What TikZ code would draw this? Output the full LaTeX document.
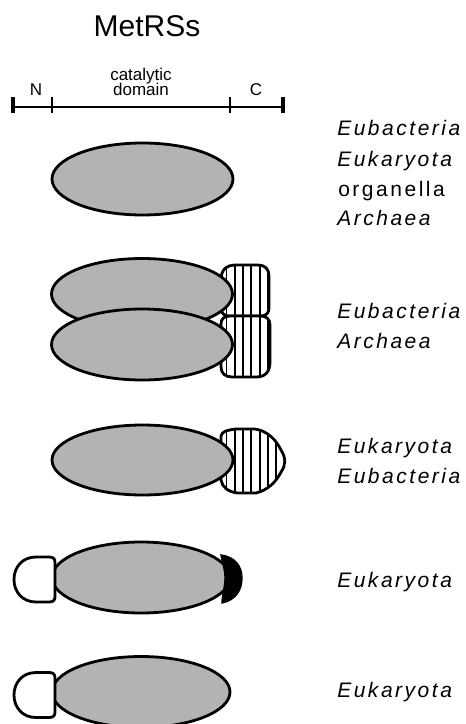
\documentclass[tikz,border=0pt]{standalone}
\usepackage{fontspec}
\setmainfont{Liberation Sans}
\newfontfamily\spfont[LetterSpace=12]{Liberation Sans}
\definecolor{domgray}{RGB}{179,179,179}
\tikzset{
  dombox/.style={fill=domgray, draw=black, line width=2.1pt},
  hblob/.style={draw=black, line width=2.1pt},
  hline/.style={line width=1.4pt},
  nblob/.style={fill=white, draw=black, line width=2.1pt},
  ccap/.style={fill=black, draw=black, line width=1pt},
  bar/.style={line width=2pt},
  endtick/.style={line width=3pt},
  midtick/.style={line width=2.2pt},
  sp/.style={font=\fontsize{15.75}{18}\selectfont\spfont\itshape, anchor=base west, inner sep=0pt},
  spu/.style={font=\fontsize{15.75}{18}\selectfont\spfont, anchor=base west, inner sep=0pt},
  barlab/.style={font=\fontsize{12.75}{14}\selectfont, anchor=base, inner sep=0pt},
}
\begin{document}
\begin{tikzpicture}[x=0.75pt, y=-0.75pt]
\useasboundingbox (0,0) rectangle (465,724);

% title
\node[font=\fontsize{22.5}{26}\selectfont, anchor=base, inner sep=0pt] (title) at (147,37) {MetRSs};

% scale bar
\coordinate (b0) at (13,107);
\coordinate (b1) at (52,107);
\coordinate (b2) at (230,107);
\coordinate (b3) at (283,107);
\draw[bar] (b0) -- (b3);
\draw[endtick] ([yshift=7.5pt]b0) -- ([yshift=-4.5pt]b0);
\draw[endtick] ([yshift=7.5pt]b3) -- ([yshift=-4.5pt]b3);
\draw[midtick] ([yshift=7.5pt]b1) -- ([yshift=-4.5pt]b1);
\draw[midtick] ([yshift=7.5pt]b2) -- ([yshift=-4.5pt]b2);
\node[barlab] (lN) at (36,95) {N};
\node[barlab] (lcat) at (141,80) {catalytic};
\node[barlab] (ldom) at (141,95) {domain};
\node[barlab] (lC) at (256,95) {C};

% row 1
\draw[dombox] (142.5,179) ellipse [x radius=90.5, y radius=36];
\node[sp] (t1a) at (337,135) {Eubacteria};
\node[sp] (t1b) at (337,166) {Eukaryota};
\node[spu] (t1c) at (338,196) {organella};
\node[sp] (t1d) at (337,225) {Archaea};

% row 2
\def\blobU{(221,280) .. controls (221,270) and (226,265) .. (236,265) -- (258,265) .. controls (265,265) and (269,269) .. (269,276) -- (269,308) .. controls (269,313) and (266,316) .. (261,316) -- (229,316) .. controls (224,316) and (221,313) .. (221,308) -- cycle}
\def\blobL{(221,324) .. controls (221,319) and (224,316) .. (230,316) -- (261,316) .. controls (266,316) and (270,319) .. (270,325) -- (270,362) .. controls (270,372) and (265,377) .. (256,377) -- (232,377) .. controls (225,377) and (221,373) .. (221,367) -- cycle}
\fill[white] \blobU;
\begin{scope}
  \clip \blobU;
  \foreach \i in {0,...,7} \draw[hline] ({226.5+8.3*\i},250) -- ({226.5+8.3*\i},330);
\end{scope}
\draw[hblob] \blobU;
\fill[white] \blobL;
\begin{scope}
  \clip \blobL;
  \foreach \i in {0,...,7} \draw[hline] ({226.5+8.3*\i},300) -- ({226.5+8.3*\i},390);
\end{scope}
\draw[hblob] \blobL;
\draw[dombox] (142,294) ellipse [x radius=90.5, y radius=35.5];
\draw[dombox] (142,344.5) ellipse [x radius=90.5, y radius=35.5];
\node[sp] (t2a) at (337,318) {Eubacteria};
\node[sp] (t2b) at (337,348) {Archaea};

% row 3
\def\blobR{(221,436) .. controls (222,431) and (228,430) .. (236,429) -- (255,429) .. controls (268,431) and (276,440) .. (281,450) .. controls (286,458) and (286,465) .. (281,472) .. controls (276,482) and (268,490) .. (256,493) -- (238,493) .. controls (228,492) and (222,487) .. (221,480) -- cycle}
\fill[white] \blobR;
\begin{scope}
  \clip \blobR;
  \foreach \i in {0,...,8} \draw[hline] ({226.5+8.3*\i},420) -- ({226.5+8.3*\i},500);
\end{scope}
\draw[hblob] \blobR;
\draw[dombox] (142.5,460) ellipse [x radius=90.5, y radius=35];
\node[sp] (t3a) at (337,453) {Eukaryota};
\node[sp] (t3b) at (337,483) {Eubacteria};

% row 4
\draw[dombox] (141,577.5) ellipse [x radius=89, y radius=35.5];
\draw[ccap] (221,555) .. controls (236,557) and (242,567) .. (242,578) .. controls (242,590) and (236,600) .. (222,603) .. controls (222,595) and (225,587) .. (225,578) .. controls (225,569) and (222,562) .. (221,555) -- cycle;
\begin{scope}[shift={(0,579.5)}]
\draw[nblob] (55,0) -- (55,-17) .. controls (55,-21) and (53,-22.5) .. (49,-22.5) -- (36,-22.5) .. controls (22,-22.5) and (14,-12) .. (14,0) .. controls (14,12) and (22,22.5) .. (36,22.5) -- (49,22.5) .. controls (53,22.5) and (55,21) .. (55,17) -- cycle;
\end{scope}
\node[sp] (t4a) at (337,587) {Eukaryota};

% row 5
\draw[dombox] (141,692) ellipse [x radius=89, y radius=35.5];
\begin{scope}[shift={(0,695)}]
\draw[nblob] (55,0) -- (55,-17) .. controls (55,-21) and (53,-22.5) .. (49,-22.5) -- (36,-22.5) .. controls (22,-22.5) and (14,-12) .. (14,0) .. controls (14,12) and (22,22.5) .. (36,22.5) -- (49,22.5) .. controls (53,22.5) and (55,21) .. (55,17) -- cycle;
\end{scope}
\node[sp] (t5a) at (337,697) {Eukaryota};
\end{tikzpicture}
\end{document}
